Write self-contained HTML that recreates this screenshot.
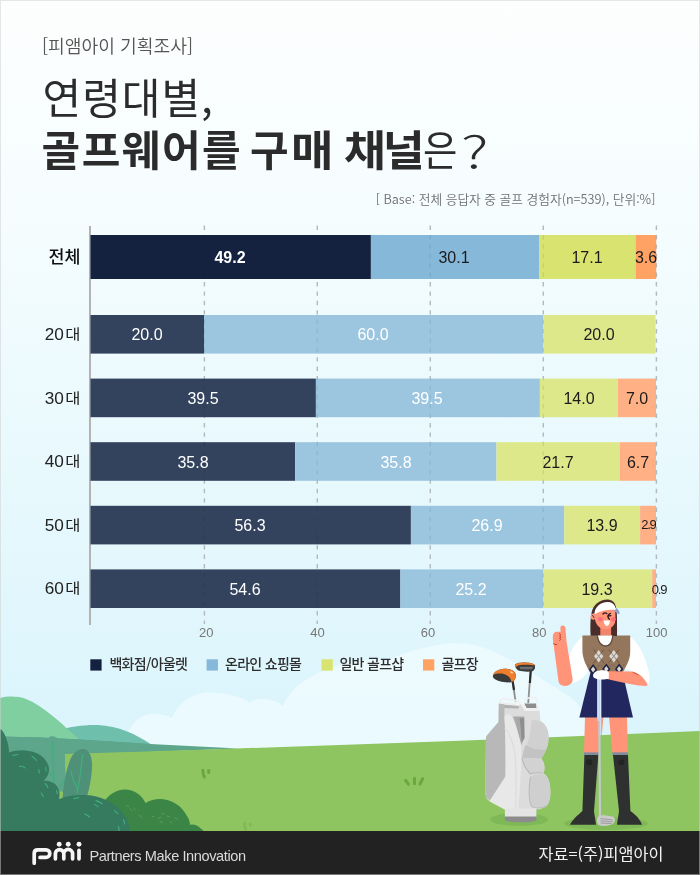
<!DOCTYPE html>
<html lang="ko">
<head>
<meta charset="utf-8">
<title>연령대별, 골프웨어를 구매 채널은?</title>
<style>
html,body{margin:0;padding:0;}
body{width:700px;height:875px;overflow:hidden;background:#fff;}
#card{position:relative;width:700px;height:875px;overflow:hidden;
  font-family:"Liberation Sans","Noto Sans CJK KR",sans-serif;
  background:linear-gradient(180deg,#fdfefe 0px,#f6fdfe 200px,#e9f9fd 450px,#dcf5fc 700px,#d6f3fb 875px);}
#art{position:absolute;left:0;top:0;width:700px;height:875px;}
.t{position:absolute;white-space:nowrap;line-height:1;}
.kr{font-family:"Noto Sans CJK KR","Liberation Sans",sans-serif;}
#tag{left:42px;top:36px;font-size:18.2px;color:#555;font-weight:350;}
#h1{left:42.5px;top:74.6px;font-size:42px;color:#2b2b2b;font-weight:400;letter-spacing:1px;}
#h2{left:41.5px;top:127px;font-size:42px;color:#2b2b2b;font-weight:700;letter-spacing:1.5px;word-spacing:-2px;}
#h2 .wd{position:absolute;top:0;font-weight:700;}
#h2 span{font-weight:400;letter-spacing:0;margin-left:-2px;}
#h2 i{font-style:normal;display:inline-block;transform-origin:0 60%;}
#h2 .eu{transform:scaleX(0.89);}
#h2 .s1{transform:scaleX(1.1);}
#h2 .s2{transform:scaleX(1.085);letter-spacing:-3px;}
#h2 .q{font-weight:300;transform:translateY(3.2px) scale(1.46,1.08);transform-origin:0 90%;margin-left:-0.4px;}
#base{right:44.6px;top:193px;font-size:12.72px;color:#707070;font-weight:350;}
.row{left:0;width:80.5px;text-align:right;font-size:17.2px;color:#222;font-family:"Liberation Sans","Noto Sans CJK KR",sans-serif;}
.row .d{display:inline-block;font-size:16.5px;transform:scaleY(0.86);transform-origin:50% 55%;margin-left:1.5px;font-family:"Noto Sans CJK KR",sans-serif;}
.val{font-size:16px;text-align:center;transform:translate(-50%,-50%);}
.w{color:#fff;}
.k{color:#1b1b1b;}
.tick{font-size:13px;color:#777;transform:translateX(-50%);top:626px;}
.lg{top:656.4px;font-size:14px;letter-spacing:-0.7px;color:#2e2e2e;font-weight:500;}
#txt{position:absolute;left:0;top:0;width:700px;height:875px;will-change:transform;}
#foot{position:absolute;left:0;top:831px;width:700px;height:44px;background:#222;}
#pmi-t{left:89.4px;top:848.8px;font-size:14.6px;letter-spacing:-0.42px;color:#dadada;}
#src{right:36.6px;top:844.6px;font-size:16.3px;color:#f2f2f2;}
#frame{position:absolute;left:0;top:0;width:698px;height:873px;border:1px solid rgba(205,205,205,0.5);pointer-events:none;}
</style>
</head>
<body>
<div id="card">
<svg id="art" viewBox="0 0 700 875" width="700" height="875">
  <!-- SCENE -->
  <g id="scene">
    <!-- clouds -->
    <g fill="#f1fcff" opacity="0.72">
      <path d="M122 752 C124 735 134 716 150 714 C160 713 168 716 172 718 C178 702 194 692 210 692.5 C230 693 244 698 250 703 C254 699 262 698 266 699.5 C274 700 280 703 283 706 C288 694 298 683 311 677 C320 671 345 661 372 659.5 C378 659.5 384 660 388 661 C398 654 420 648 444 644 C455 642.6 468 643.6 478 646 C496 651 512 661 526 669 C540 677 556 688 570 697 C580 704 592 722 600 742 L600 760 L122 760 Z"/>
    </g>
    <!-- far hills -->
    <path d="M55 731 C70 726.5 86 724.5 98 725 C118 726 136 734 152 745 L152 760 L55 760 Z" fill="#6fbfad"/>
    <path d="M0 698 C8 696 18 696 26 699 C44 706 62 724 82 742 L82 760 L0 760 Z" fill="#80cfa0"/>
    <!-- far band -->
    <path d="M0 736.5 L40 737.6 L80 739.5 L150 744 L238 748.6 L100 754 L0 757 Z" fill="#5da58b"/>
    <!-- grass -->
    <path d="M0 756 C230 749 470 741 700 731 L700 835 L0 835 Z" fill="#8ec561"/>
    <!-- band overlap on left over grass (keeps band bottom straight) -->
    <path d="M0 736.5 L40 737.6 L80 739.5 L150 744 L150 751 L65 753 L65 790 L0 790 Z" fill="#5da58b"/>
    <!-- tall leaf 1 -->
    <path d="M45 790 C44 770 44 752 46 744 C47 738 50 736 52 736.3 C56 736.5 60 739 62 746 C65 758 66 775 66 792 Z" fill="#5da58b"/>
    <path d="M52.4 742 C53 760 54 775 54.5 788 M50 773 L53.6 778 M64 780 L60 786" stroke="#43ad7c" stroke-width="1.3" fill="none" stroke-linecap="round"/>
    <!-- tall leaf 2 -->
    <path d="M62.5 800 C63 785 67 765 72 756 C76 750 81 748.5 84 749 C89 750 92 756 92 765 C92 777 89 790 86 800 Z" fill="#4f9079"/>
    <path d="M82.6 755 C81 770 79 785 77 793 M71 771 C72 778 75 784 77 788" stroke="#43ad7c" stroke-width="1.3" fill="none" stroke-linecap="round"/>
    <!-- medium bush -->
    <path d="M104 835 L104 802 C108 795 116 789.5 125 789.4 C134 789.5 142 795 145.5 803 C150 800 156 798.8 161 799 C172 799.5 182 806 187 816 C189 819 190 822 190 825 C193 824 197 825 199 827 C201 828.5 203 830 204 832 L204 835 Z" fill="#3b8547"/>
    <g stroke="#5f9d63" stroke-width="0.9" stroke-linecap="round" fill="none">
      <path d="M126.5 805.5l2 1M130 809l2 1.5M133.5 808l1.8 1.6M139 815c1.5 1 2.5 2 3.3 3.5M152 817l2-1M158 818.5l3-1.2M162 814l2.2-.4M167 816l2.4.8M160 821.5l2.6 1M170 821.5l2 1.6M175 818l2.6 1"/>
    </g>
    <!-- big teal bush -->
    <path d="M0 729 C3 730 6 736 8 744 C8.6 747 9 750 9 752.5 C13 751 19 750.2 25 750.4 C38 751 47 758 49 768 C49.5 773 47 778 43.5 781 C47 780 52 781.5 55 784 C59 787.5 60.5 793 59 799 C66 796 76 794.6 86 795 C100 795.5 113 802 121 811 C127 818 130.5 825 130.5 835 L0 835 Z" fill="#367b5f"/>
    <g stroke="#3fb07c" stroke-width="1.1" stroke-linecap="round" fill="none">
      <path d="M12.5 755.5l5.5-1M32 756.5c1.8 1 3.4 2.3 4.6 4M19.5 766.5c2-.6 4 0 5.6 1.4M38.6 769.6l.8 3.6M45.6 767l.6 4M45 783.5c1.3 1 2.3 2.4 2.8 4M41.4 793l1.8 3.4M56.6 790.4l.8 3.4M74 798.6l5-.8M96 800.6c2.2.6 4.4 1.8 6.2 3.2M94.6 804.4l3.4 2.2M84.6 814c2 .6 3.6 1.6 5 3M114.6 810.6l3.4 3.2M123.6 819.6l1.2 4.6M118.6 826.6l.6 4"/>
    </g>
    <!-- grass tufts -->
    <g stroke="#6aa83c" stroke-linecap="round" fill="none">
      <path d="M202.8 770.2 C202.8 772.6 203.4 775.2 204.4 777" stroke-width="3"/>
      <path d="M208.7 770.6v1.8" stroke-width="3"/>
      <path d="M405.6 780.4l2.8 3.8M414.5 778.4v5.4M422.6 778.8l-2.6 5.2" stroke-width="3.1"/>
    </g>
    <g stroke="#81ba54" stroke-linecap="round" fill="none" stroke-width="2.8">
      <path d="M244.6 823.2 C244.6 825.6 245 828 245.6 830.5M250.3 823.8v1.6"/>
    </g>
  </g>

  <!-- GOLF BAG -->
  <g id="bag">
    <ellipse cx="519" cy="819.5" rx="29" ry="6.5" fill="#7fb856"/>
    <!-- club shafts -->
    <path d="M512.6 681 L515.8 703" stroke="#8f8f8f" stroke-width="1.8" fill="none"/>
    <path d="M512.4 680 L514 690" stroke="#2e2e2e" stroke-width="2.2" fill="none"/>
    <path d="M530.6 671 L528.2 703" stroke="#8f8f8f" stroke-width="1.8" fill="none"/>
    <path d="M530.8 670 L529.9 683" stroke="#2e2e2e" stroke-width="2.2" fill="none"/>
    <!-- driver 1 -->
    <path d="M493 675.5 C494 671 500 668.8 506 668.8 C511 668.8 515.4 671 515.8 675 C516 678.5 514 681.6 511 682.2 C505 683 497 681.5 494 678.6 C493 677.6 492.8 676.5 493 675.5 Z" fill="#3a3a3a"/>
    <path d="M493.2 674.8 C495 670.6 501 668.6 506 668.8 C511 668.8 515.4 671 515.8 675 C516 678.5 514 681.6 511.4 682 C511 678 507.4 674.4 502 673.6 C498.6 673.2 495.4 673.8 493.2 674.8 Z" fill="#f07d2b"/>
    <ellipse cx="511.6" cy="672.4" rx="1.6" ry="0.8" fill="#ffd9bd" transform="rotate(35 511.6 672.4)"/>
    <!-- driver 2 -->
    <path d="M514.8 665 C516 663.4 520 662.6 524 662.6 C529 662.6 533.6 663.4 535 665.4 C535.4 667.6 534.4 670.4 532.6 671.2 C529 672 522 671.6 519 670.8 C517 670 515.2 667.6 514.8 665 Z" fill="#3a3a3a"/>
    <path d="M514.8 665.4 C516 663.4 520 662.6 524 662.6 C529 662.6 533.6 663.4 535 665.6 C531 664.6 524.5 664.4 520.5 665 C518 665.4 516.6 666.2 515.6 667.4 C515.1 666.8 514.8 666.1 514.8 665.4 Z" fill="#f07d2b"/>
    <path d="M519.6 667.4h13.2M520 668.8h12.4" stroke="#9a9a9a" stroke-width="0.7"/>
    <!-- handles (thin white arcs) -->
    <path d="M499.8 703 C499.6 700 501.4 698.4 504 698.6 L516.4 700.6 C518.6 701 519.6 702.4 519.6 704.4" stroke="#f0f0f0" stroke-width="1.8" fill="none" stroke-linecap="round"/>
    <path d="M524.6 702 C525 699.4 527 698 529.6 697.8 L533.6 697.4 C535.6 697.4 536.6 699 537 702" stroke="#f0f0f0" stroke-width="1.8" fill="none" stroke-linecap="round"/>
    <!-- body silhouette, right/back part -->
    <path d="M498.8 703.6 L521 704.6 L525 711 L539.6 711 L540.4 720.4 C545 724 548.4 728 548.6 737 C548.6 744 547 750 541.2 758.6 C544.4 762 545.4 768 543.6 773.2 C548 776 550.2 782 550.4 792 C550.4 799 549.4 804 540.4 809.2 L504.4 809.2 L490.8 802 C487 800 485.2 796 485.2 792.4 L486 736.4 L498.5 722 Z" fill="#dcdcdc"/>
    <!-- left interior top -->
    <path d="M499.4 703.8 L519.4 705.2 L518.4 708.6 L499.6 708 Z" fill="#b2b2b2"/>
    <path d="M499.4 703.2 L519.6 705" stroke="#ededed" stroke-width="2" fill="none"/>
    <ellipse cx="516.6" cy="703.4" rx="3" ry="1.6" fill="#f4f4f4" transform="rotate(20 516.6 703.4)"/>
    <!-- right collar -->
    <path d="M521 704.4 L525 711 L539.6 711 L538 703.4 Z" fill="#f0f0f0"/>
    <path d="M524.4 703.6 L536 703.6 L536.4 708 L526.6 708 Z" fill="#8d8d8d"/>
    <!-- left dark panel -->
    <path d="M498.8 703.6 L504.4 704.4 L504.4 715.6 C505.6 735 505.8 757 505.5 776.4 L490 800.6 C487 798.6 485.2 796 485.2 792.4 L486 736.4 L498.5 722 Z" fill="#b8b8b8"/>
    <!-- strap shadow -->
    <path d="M513 716.4 L524.4 716.4 L524.6 738 L521.2 745 C519 735 516 724 513 716.4 Z" fill="#a9a9a9"/>
    <path d="M519.6 718 L524 718 L524.4 738 L521.8 742 C521.4 734 520.6 726 519.6 718 Z" fill="#8f8f8f"/>
    <!-- centre light fin -->
    <path d="M504.4 716.4 C506 714.6 508 713.8 509.4 714 C512 716 514.4 722 516 727 C518 734 520 740 521 744.6 C521.4 752 521.4 758 521.2 762 C520.6 780 519.4 796 518.2 809.2 L504.4 809.2 L490.8 802 C490.4 801.6 490.2 801 490 800.6 L505.5 776.4 C505.8 757 505.6 735 504.4 716.4 Z" fill="#e8e8e8"/>
    <path d="M504.6 728 C510 734 514.6 745 515.6 760 C516.4 780 516 796 515.6 809" stroke="#dadada" stroke-width="1" fill="none"/>
    <!-- upper pocket -->
    <path d="M531.6 720.6 C536 719.6 541 721 544 724 C547.4 727.6 548.6 732 548.6 737 C548.6 744 547 750 541.2 758.4 L522 758 C523.4 752 526.6 746 529.2 738 C530.6 732 531.2 726 531.6 720.6 Z" fill="#d0d0d0"/>
    <path d="M525.4 745 C532 749 540 750.6 546 749.4 C545 752.6 543.4 755.4 541.2 758.4 L522 758 C522.8 753.6 524 749.4 525.4 745 Z" fill="#c3c3c3"/>
    <!-- middle pocket -->
    <path d="M522 758 L541.2 758.4 C544.4 762 545.4 768 543.6 773.2 C539 772.4 534 772.8 530.4 774 C526 769.4 523 764 522 758 Z" fill="#d2d2d2"/>
    <path d="M522 758 C523 764 526 769.4 530.4 774 C534 772.8 539 772.4 543.6 773.2" stroke="#b9b9b9" stroke-width="1.1" fill="none"/>
    <!-- lower pocket -->
    <path d="M531 776.6 C534 774.6 541 773.6 545 775 C548.6 777 550.2 783 550.4 792 C550.4 799 549.6 803 546.6 806 C543 808.6 535 808.6 532 806.6 C529.6 804 529 797 529.2 790 C529.4 784 529.6 779 531 776.6 Z" fill="#cfcfcf"/>
    <path d="M531 776.6 C529.6 779 529.4 784 529.2 790 C529 797 529.6 804 532 806.6 C535 808.6 543 808.6 546.6 806" stroke="#bcbcbc" stroke-width="1.1" fill="none"/>
    <!-- base -->
    <path d="M504.9 808.6 L536.4 808.6 L536.4 817 L504.9 817 Z" fill="#e4e4e4"/>
    <path d="M504.9 816.4 L536.4 816.4 L536.4 820.4 C531 823 511 823 504.9 820.4 Z" fill="#8c8c8c"/>
  </g>
  <!-- GOLFER -->
    <!-- CHART -->
  <g id="chart">
    
    <g stroke="#c3cacd" stroke-width="1.4" stroke-dasharray="4.4 5" fill="none">
      <path d="M204.4 225.6V624M317.3 225.6V624M430.3 225.6V624M543.3 225.6V624M656.4 225.6V624"/>
    </g>
    <rect x="89" y="226" width="2" height="399" fill="#b3b3b3"/>
    <!-- total -->
    <g>
      <rect x="90.5" y="235" width="280.4" height="44" fill="#142240"/>
      <rect x="370.9" y="235" width="168.1" height="44" fill="#86b8d9"/>
      <rect x="539" y="235" width="96.5" height="44" fill="#d9e370"/>
      <rect x="635.5" y="235" width="20.7" height="44" fill="#ffa264"/>
    </g>
    <g>
      <rect x="90.5" y="315" width="113.5" height="38.6" fill="#33435e"/>
      <rect x="204" y="315" width="339.3" height="38.6" fill="#9cc6e0"/>
      <rect x="543.3" y="315" width="112.2" height="38.6" fill="#dde88a"/>
    </g>
    <g>
      <rect x="90.5" y="378.6" width="225.4" height="38.6" fill="#33435e"/>
      <rect x="315.9" y="378.6" width="224" height="38.6" fill="#9cc6e0"/>
      <rect x="539.9" y="378.6" width="78.1" height="38.6" fill="#dde88a"/>
      <rect x="618" y="378.6" width="38" height="38.6" fill="#ffb185"/>
    </g>
    <g>
      <rect x="90.5" y="442.2" width="204.7" height="38.6" fill="#33435e"/>
      <rect x="295.2" y="442.2" width="201.3" height="38.6" fill="#9cc6e0"/>
      <rect x="496.5" y="442.2" width="123.2" height="38.6" fill="#dde88a"/>
      <rect x="619.7" y="442.2" width="36.3" height="38.6" fill="#ffb185"/>
    </g>
    <g>
      <rect x="90.5" y="505.8" width="320.4" height="38.6" fill="#33435e"/>
      <rect x="410.9" y="505.8" width="153.3" height="38.6" fill="#9cc6e0"/>
      <rect x="564.2" y="505.8" width="75.9" height="38.6" fill="#dde88a"/>
      <rect x="640.1" y="505.8" width="15.9" height="38.6" fill="#ffb185"/>
    </g>
    <g>
      <rect x="90.5" y="569.4" width="309.9" height="38.6" fill="#33435e"/>
      <rect x="400.4" y="569.4" width="142.9" height="38.6" fill="#9cc6e0"/>
      <rect x="543.3" y="569.4" width="108.9" height="38.6" fill="#dde88a"/>
      <rect x="652.2" y="569.4" width="3.8" height="38.6" fill="#ffb185"/>
    </g>
    <g stroke="#1a2026" stroke-opacity="0.09" stroke-width="1.4" stroke-dasharray="4.4 5" fill="none">
      <path d="M204.4 225.6V624M317.3 225.6V624M430.3 225.6V624M543.3 225.6V624M656.4 225.6V624"/>
    </g>
    <!-- legend swatches -->
    <rect x="90.3" y="659.3" width="11.3" height="11.3" fill="#142240"/>
    <rect x="206.6" y="659.3" width="11.3" height="11.3" fill="#86b8d9"/>
    <rect x="321.5" y="659.3" width="11.3" height="11.3" fill="#d9e370"/>
    <rect x="423" y="659.3" width="11.3" height="11.3" fill="#ffa264"/>
  </g>
  <g id="golfer">
    <ellipse cx="606" cy="823.5" rx="42" ry="6.5" fill="#7fb856"/>
    <!-- back hair -->
    <path d="M590.6 636 C590 626 590.4 618 591.7 612 C593.4 605 599 600 607.7 599.6 C612.6 599.6 615.6 603 616.2 609 C617 618 617.2 628 617 636 Z" fill="#4a2d2a"/>
    <!-- legs -->
    <path d="M585 717 L599 717 L598.6 753 L584 753 Z" fill="#ff9479"/>
    <path d="M609 717 L627 717 L627.8 753 L612.4 753 Z" fill="#ff9479"/>
    <path d="M601.2 717 L603.4 717 L601.2 742 Z" fill="#ff9479"/>
    <!-- sock bands -->
    <rect x="584" y="752.4" width="15" height="2.8" fill="#7d8c9f"/>
    <rect x="612.4" y="752.4" width="15.6" height="2.8" fill="#7d8c9f"/>
    <!-- boots -->
    <path d="M584.4 755 L598.4 755 L594 811 C594.6 816 595.6 821 596 824.8 L570 824.8 C572 820 578 815 582.4 811 Z" fill="#2f3030"/>
    <path d="M613 755 L628 755 L630.4 811 C636 815 640.6 820 642 824.8 L617 824.8 C617.4 821 618.4 816 619 811 Z" fill="#2f3030"/>
    <circle cx="589.2" cy="762.2" r="3" fill="#222323"/>
    <circle cx="621.4" cy="762.2" r="3" fill="#222323"/>
    <!-- club lower shaft + head -->
    <path d="M599.3 717 L600 818" stroke="#c3c8cd" stroke-width="2.2" fill="none"/>
    <path d="M597 819 C597 816.4 600 815 604 815.2 L612.6 816.6 C615 817.4 615.6 820 614.2 822.6 C612 825.8 604 826.8 598.8 825.2 C596.8 823.4 596.6 821 597 819 Z" fill="#cbcbcb"/>
    <path d="M600.4 818.6 L612.4 819.8 M600.4 820.8 L612.8 821.8 M600.6 823 L611.6 823.6" stroke="#8f8f8f" stroke-width="0.8" fill="none"/>
    <!-- neck -->
    <path d="M600.3 624 L611.1 624 L611.1 637 L600.3 637 Z" fill="#f3836c"/>
    <!-- white shirt sleeves -->
    <path d="M583 636.6 C575 642 570 652 568.6 660 C567.6 668 569 678 573 683 C579 682 586 676 590 668 L583 650.7 Z" fill="#ffffff"/>
    <path d="M629.6 636.6 C638 642 644 654 647.9 667.9 C649.2 673 650.2 678 649.2 683 L646 686 L634 672 C630 670 626 669.5 622.6 668.7 L629.6 652.4 Z" fill="#ffffff"/>
    <!-- skirt -->
    <path d="M590.6 672 L622.4 672 L633 717.6 L579.4 717.6 Z" fill="#232760"/>
    <!-- vest -->
    <path d="M582.4 635.6 L630.2 635.6 L630.2 652.4 C630 660 626 666.6 622.4 673 L590.4 673 C586.4 666 582.6 659 582.4 650.7 Z" fill="#94765d"/>
    <!-- shirt V -->
    <path d="M598 635.6 L612.2 635.6 C612 641 609.4 645.4 605.6 645.6 C601.6 645.4 598.4 641 598 635.6 Z" fill="#ffffff"/>
    <path d="M597.3 635.8 C597.8 641.6 601 646 605.6 646.2 C610 646 612.4 641.6 612.7 635.8" stroke="#5d4a40" stroke-width="1.2" fill="none"/>
    <!-- argyle upper diamonds -->
    <g>
      <path d="M598.7 650 L603.3 656.3 L598.7 662.6 L594.1 656.3 Z" fill="#dcd8d3"/>
      <path d="M613.8 650 L618.4 656.3 L613.8 662.6 L609.2 656.3 Z" fill="#dcd8d3"/>
      <path d="M593.6 649.6 L604.2 663.4 M603.8 649.6 L593.2 663.4 M608.7 649.6 L619.3 663.4 M618.9 649.6 L608.3 663.4" stroke="#5a4a42" stroke-width="0.85" fill="none" stroke-opacity="0.85"/>
      <path d="M596.4 653.2 L601 659.4 M601 653.2 L596.4 659.4 M611.5 653.2 L616.1 659.4 M616.1 653.2 L611.5 659.4" stroke="#b9b1a9" stroke-width="0.5" fill="none"/>
      <path d="M588.4 664.4 L590.4 667 M599.6 664.6 L597.4 667.4 M600.6 664.6 L602.6 667 M612 664.6 L610 667.2 M613.4 664.6 L615.4 667 M624.4 664.2 L622.6 666.6" stroke="#6b594e" stroke-width="0.6" fill="none"/>
    </g>
    <!-- argyle lower diamonds -->
    <g>
      <path d="M593.1 663.9 L597.2 669.5 L594.8 673 L591.2 673 L589 669.5 Z" fill="#1d2340"/>
      <path d="M593.1 666.5 L595.3 669.5 L593.1 672.5 L590.9 669.5 Z" fill="#dedbd6"/>
      <path d="M606.3 663.4 L610.4 669 L607.6 673 L605 673 L602.2 669 Z" fill="#1d2340"/>
      <path d="M606.3 666 L608.5 669 L606.3 672 L604.1 669 Z" fill="#dedbd6"/>
      <path d="M619.1 663.4 L623.2 669 L620.6 673 L617.6 673 L615 669 Z" fill="#1d2340"/>
      <path d="M619.1 666 L621.3 669 L619.1 672 L616.9 669 Z" fill="#dedbd6"/>
    </g>
    <!-- club grip -->
    <rect x="597.4" y="676" width="3.8" height="45" fill="#bcd8f5"/>
    <rect x="597.4" y="676" width="0.9" height="42" fill="#eaf3fc"/>
    <rect x="600.3" y="676" width="0.9" height="42" fill="#eaf3fc"/>
    <!-- right forearm -->
    <path d="M607 671.2 L632 671.6 C637 672.4 641.4 675.4 644.4 679.4 C646.2 681.8 647.4 684 647.6 685.2 C646.8 686 645 686 643 685.8 C632 684.8 618 681.6 607 678.9 Z" fill="#ff9479"/>
    <path d="M633 672.4 C635 673 637 674 638.4 675" stroke="#c9563f" stroke-width="0.9" fill="none" stroke-linecap="round"/>
    <!-- glove -->
    <path d="M593 675.6 C593.4 672.6 596 670.6 600 670.4 C604 670.2 608 670.8 608.8 672.4 L608.8 678.6 C606 679.6 602 679.8 598.6 679.4 C595 679 592.8 677.8 593 675.6 Z" fill="#ffffff"/>
    <!-- left forearm + fist -->
    <path d="M553.4 643 L565.6 636 L572.6 679 C573 683 569 686 565.4 686 C562 686 559.4 684.6 558.6 682 Z" fill="#ff9479"/>
    <path d="M552.8 636 C552.8 633.4 554.6 631.8 557 631.8 L562 631.8 L563.4 644 L554 645 C553 642 552.8 639 552.8 636 Z" fill="#ff9479"/>
    <path d="M560.4 628 C560.4 626.4 561.4 625.6 562.8 625.6 C564.2 625.6 565.2 626.6 565.4 628 L566.4 640 L561 640 Z" fill="#ff9479"/>
    <path d="M559.6 633.6 C560.8 634 560.8 635.4 559.6 635.8 C561 636.2 561 637.8 559.6 638.2 C560.8 638.6 560.8 640 559.8 640.4 M553.6 643.4 C554.2 644.4 555.4 644.8 556.6 644.6" stroke="#b8452f" stroke-width="1" fill="none" stroke-linecap="round"/>
    <!-- face -->
    <ellipse cx="593.2" cy="616.6" rx="2.7" ry="3.1" fill="#ff9479"/>
    <path d="M592.4 615.6 C593.4 615.8 594 616.6 594 617.6" stroke="#4a2d2a" stroke-width="1" fill="none" stroke-linecap="round"/>
    <path d="M594.6 616 C594.6 609 599.6 604 605.6 604 C611.6 604 616.3 609 616.3 616 C616.3 624 611.6 629.4 605.6 629.4 C599.6 629.4 594.6 624 594.6 616 Z" fill="#ff9479"/>
    <!-- side hair strands -->
    <path d="M614.8 606 C616.4 608 617 614 617 622 L617 636 L613.4 636 C615 628 616.2 618 614.8 606 Z" fill="#4a2d2a"/>
    <circle cx="600.3" cy="619.2" r="2.3" fill="#ff6b7d"/>
    <circle cx="613.4" cy="619.2" r="2.3" fill="#ff6b7d"/>
    <path d="M603.7 620.6 L610 620.6 C610 623.6 608.6 625.9 606.9 625.9 C605.1 625.9 603.7 623.6 603.7 620.6 Z" fill="#ffffff"/>
    <path d="M603 614 Q604.8 612 606.8 613.6" stroke="#2a1a1a" stroke-width="1.3" fill="none" stroke-linecap="round"/>
    <path d="M610.4 613.4 C609 614 608 615 607.8 616.2 C608 617.6 608.6 618.6 609.4 619.4 M607.8 616.2 L610.8 615.6" stroke="#2a1a1a" stroke-width="1.3" fill="none" stroke-linecap="round" stroke-linejoin="round"/>
    <!-- visor -->
    <path d="M613.8 607.6 C617 607.8 619.2 610 619.6 614.2 C617.4 614 614.8 612.4 613.8 610.2 Z" fill="#8e9cc8"/>
    <path d="M594.4 613.4 C595 607 600 602.2 607.7 601.9 C612 601.9 615 604.6 615.8 608.8 C615.9 609.4 615.6 609.9 615 609.9 C608 609.6 600 611 595.6 614 C595 614.4 594.4 614 594.4 613.4 Z" fill="#ffffff"/>
  </g>

</svg>

<div id="txt">
<div class="t kr" id="tag">[피앰아이 기획조사]</div>
<div class="t kr" id="h1">연령대별,</div>
<div class="t kr" id="h2"><b class="wd" style="left:0">골프웨어를</b> <b class="wd" style="left:208.6px;letter-spacing:2.4px">구<i class="s1">매</i></b> <b class="wd" style="left:302px"><i class="s2">채널</i></b><b class="wd" style="left:383.4px"><span><i class="eu">은</i><i class="q">?</i></span></b></div>
<div class="t kr" id="base">[ Base: 전체 응답자 중 골프 경험자(n=539), 단위:%]</div>

<div class="t kr row" style="top:249px;font-weight:500;color:#111;font-size:17.4px">전체</div>
<div class="t row" style="top:325px">20<span class="d">대</span></div>
<div class="t row" style="top:388.6px">30<span class="d">대</span></div>
<div class="t row" style="top:452.2px">40<span class="d">대</span></div>
<div class="t row" style="top:515.8px">50<span class="d">대</span></div>
<div class="t row" style="top:579.4px">60<span class="d">대</span></div>

<div class="t val w" style="left:230px;top:257.6px;font-weight:700">49.2</div>
<div class="t val k" style="left:454px;top:257.6px">30.1</div>
<div class="t val k" style="left:587px;top:257.6px">17.1</div>
<div class="t val k" style="left:646px;top:257.6px">3.6</div>

<div class="t val w" style="left:147px;top:335.4px">20.0</div>
<div class="t val w" style="left:373px;top:335.4px">60.0</div>
<div class="t val k" style="left:599px;top:335.4px">20.0</div>

<div class="t val w" style="left:203px;top:399px">39.5</div>
<div class="t val w" style="left:427px;top:399px">39.5</div>
<div class="t val k" style="left:579px;top:399px">14.0</div>
<div class="t val k" style="left:637px;top:399px">7.0</div>

<div class="t val w" style="left:193px;top:462.6px">35.8</div>
<div class="t val w" style="left:396px;top:462.6px">35.8</div>
<div class="t val k" style="left:558px;top:462.6px">21.7</div>
<div class="t val k" style="left:638px;top:462.6px">6.7</div>

<div class="t val w" style="left:250px;top:526.2px">56.3</div>
<div class="t val w" style="left:487px;top:526.2px">26.9</div>
<div class="t val k" style="left:602px;top:526.2px">13.9</div>
<div class="t val k" style="left:648.4px;top:523.6px;font-size:13px;letter-spacing:-1.2px">2.9</div>

<div class="t val w" style="left:245px;top:589.8px">54.6</div>
<div class="t val w" style="left:471px;top:589.8px">25.2</div>
<div class="t val k" style="left:597px;top:589.8px">19.3</div>
<div class="t val k" style="left:659px;top:588.8px;font-size:13px;letter-spacing:-1.2px">0.9</div>

<div class="t tick" style="left:206.2px">20</div>
<div class="t tick" style="left:317.4px">40</div>
<div class="t tick" style="left:428.1px">60</div>
<div class="t tick" style="left:539.2px">80</div>
<div class="t tick" style="left:656.6px">100</div>

<div class="t kr lg" style="left:109.4px">백화점/아울렛</div>
<div class="t kr lg" style="left:225px">온라인 쇼핑몰</div>
<div class="t kr lg" style="left:339.4px">일반 골프샵</div>
<div class="t kr lg" style="left:441.4px">골프장</div>

<div id="foot"></div>
<svg id="pmi" viewBox="0 0 700 875" width="700" height="875" style="position:absolute;left:0;top:0">
  <g stroke="#f7f7f7" stroke-width="3.7" fill="none" stroke-linecap="round" stroke-linejoin="round">
    <path d="M34.2 863.2 V853.4 Q34.2 849.8 37.8 849.8 H46 A3.8 3.8 0 0 1 46 857.4 H40"/>
    <path d="M55.4 858.8 V853.8 A4.2 4.2 0 0 1 63.8 853.8 V858.8 M63.8 853.8 A4.4 4.4 0 0 1 72.6 853.8 V858.8"/>
    <path d="M79 850.4 V858.8"/>
  </g>
  <g fill="#f7f7f7"><circle cx="59.2" cy="844.3" r="2.45"/><circle cx="68.2" cy="844.3" r="2.45"/><circle cx="79" cy="844.3" r="2.45"/></g>
</svg>
<div class="t" id="pmi-t">Partners Make Innovation</div>
<div class="t kr" id="src">자료=(주)피앰아이</div>
</div>
<div id="frame"></div>
</div>
</body>
</html>
